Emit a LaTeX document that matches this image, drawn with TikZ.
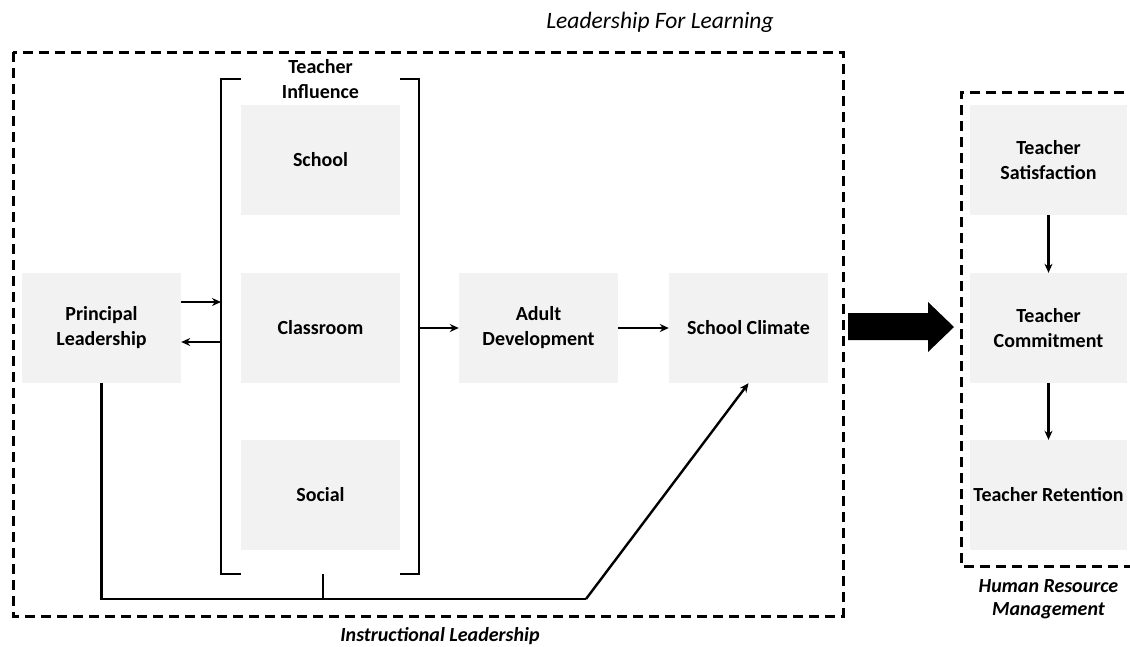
\documentclass[tikz,border=0pt]{standalone}
\usepackage{fontspec}
\setmainfont{Carlito}
\usetikzlibrary{arrows.meta}
\definecolor{boxgray}{HTML}{F2F2F2}
\tikzset{
  gbox/.style={fill=boxgray,minimum width=159pt,minimum height=110pt,inner sep=0pt,align=center,font=\bfseries\fontsize{20}{25}\selectfont},
  dashbox/.style={line width=3pt,dash pattern=on 10pt off 6pt},
  brk/.style={line width=2.6pt},
  conn/.style={line width=2.4pt,-{Stealth[length=9pt,width=8pt]}},
  plain/.style={line width=2.4pt},
}
\begin{document}
\begin{tikzpicture}[x=1pt,y=-1pt]
\useasboundingbox (0,0) rectangle (1130,646);
% outer dashed box
\draw[dashbox] (13,52) rectangle (843,616);
\node[font=\itshape\fontsize{23.5}{28}\selectfont] (title) at (660,22) {Leadership For Learning};
\node[font=\bfseries\itshape\fontsize{20}{24}\selectfont] (instr) at (440,636) {Instructional Leadership};
% nodes
\node[gbox] (pl) at (101.5,328) {Principal\\Leadership};
\node[gbox] (school) at (320.5,160) {School};
\node[gbox] (class) at (320.5,328) {Classroom};
\node[gbox] (social) at (320.5,495) {Social};
\node[gbox] (adult) at (538.5,328) {Adult\\Development};
\node[gbox] (clim) at (748.5,328) {School Climate};
% bracket
\coordinate (bl) at (221,328);
\coordinate (br) at (419,328);
\coordinate (bb) at (323,574);
\draw[brk] (241,79) -- (221,79) -- (221,574) -- (241,574);
\draw[brk] (400,79) -- (419,79) -- (419,574) -- (400,574);
\node[font=\bfseries\fontsize{20}{25}\selectfont,align=center,inner sep=0pt] (ti) at (320.5,79) {Teacher\\Influence};
% arrows
\draw[conn] ([yshift=26pt]pl.east) -- ([yshift=26pt]pl.east -| bl);
\draw[conn] ([yshift=-14pt]pl.east -| bl) -- ([yshift=-14pt]pl.east);
\draw[conn] (br) -- (adult.west);
\draw[conn] (adult.east) -- (clim.west);
% bottom connector
\coordinate (c1) at (101.5,599);
\coordinate (c2) at (586,599);
\coordinate (c3) at (323,599);
\draw[plain] (pl.south) -- (c1) -- (c2);
\draw[conn] (c2) -- (clim.south);
\draw[plain] (bb) -- (c3);
% big arrow
\fill[black] (848,313) -- (928,313) -- (928,302) -- (954,327) -- (928,352) -- (928,340) -- (848,340) -- cycle;
% right box
\draw[dashbox] (1140,92) -- (961,92) -- (961,566) -- (1140,566);
\node[gbox,minimum width=157pt] (sat) at (1048.5,160) {Teacher\\Satisfaction};
\node[gbox,minimum width=157pt] (com) at (1048.5,328) {Teacher\\Commitment};
\node[gbox,minimum width=157pt] (ret) at (1048.5,495) {Teacher Retention};
\draw[conn] (sat) -- (com);
\draw[conn] (com) -- (ret);
\node[font=\bfseries\itshape\fontsize{20}{23}\selectfont,align=center] (hrm) at (1048.5,599) {Human Resource\\Management};
\end{tikzpicture}
\end{document}
